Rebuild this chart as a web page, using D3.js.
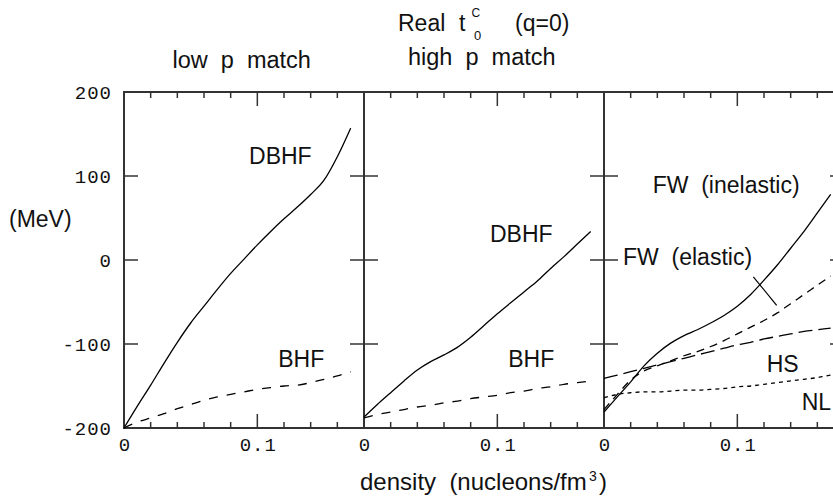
<!DOCTYPE html>
<html><head><meta charset="utf-8">
<script src="https://cdn.jsdelivr.net/npm/d3@7"></script>
<style>body{margin:0;background:#fff}svg{display:block}</style>
</head><body>
<svg id="c" width="833" height="497"></svg>
<script>
// ---- data ----
const density = [0,0.01,0.02,0.03,0.04,0.05,0.06,0.07,0.08,0.09,0.10,0.11,0.12,0.13,0.14,0.15,0.16,0.17];
const lowDBHF  = [-200,-174,-149,-123,-98,-75,-55,-35,-16,1,18,34,49,63,78,95,123,157];
const lowBHF   = [-200,-193,-188,-183,-177,-172,-167,-163,-160,-157,-154,-152,-150,-149,-146,-142,-138,-133];
const highDBHF = [-187,-172,-158,-144,-131,-121,-113,-104,-92,-78,-64,-51,-38,-25,-10,4,19,34];
const highBHF  = [-188,-184,-181,-178,-175,-173,-170,-168,-165,-163,-161,-158,-156,-153,-151,-148,-146,-144];
const fwInelastic = [-181,-163,-145,-126,-111,-99,-90,-83,-75,-66,-55,-41,-24,-6,14,34,56,78];
const fwElastic   = [-178,-160,-143,-132,-126,-120,-114,-109,-103,-96,-88,-80,-72,-63,-52,-41,-30,-19];
const hs = [-141,-137,-133,-129,-125,-121,-117,-113,-109,-105,-101,-98,-94,-91,-88,-85,-83,-81];
const nl = [-164,-160,-158,-157,-157,-156,-155,-155,-154,-153,-151,-150,-148,-146,-144,-142,-140,-137];
const pointerD = [0.112,0.1295];
const pointerV = [-20,-54];
const panelTitles = ["low  p  match","high  p  match"];
const xTickLabels = ["0","0.1"], xTickLabelVals = [0,0.1];
const yTickLabels = ["200","100","0","-100","-200"], yTickLabelVals = [200,100,0,-100,-200];
const xMinor = [0.02,0.04,0.06,0.08,0.12,0.14,0.16], xMajor = [0.1];
const yTicks = [-100,0,100];

// ---- layout ----
const svg = d3.select("#c");
const W = 240, yTop = 92, yBot = 428;
const x0s = [124,364,604];
const y = d3.scaleLinear().domain([-200,200]).range([yBot,yTop]);
const xs = x0s.map(x0 => d3.scaleLinear().domain([0,0.18]).range([x0,x0+W]));
const sans = "'Liberation Sans', Arial, Helvetica, sans-serif";
const mono = "'Liberation Mono', 'Courier New', monospace";
const axisCol = "#333";

const panels = [
  {series:[{v:lowDBHF,dash:null},{v:lowBHF,dash:"9,9"}],
   labels:[{t:"DBHF",d:0.0938,v:114},{t:"BHF",d:0.1157,v:-127}]},
  {series:[{v:highDBHF,dash:null},{v:highBHF,dash:"9,9"}],
   labels:[{t:"DBHF",d:0.0945,v:22},{t:"BHF",d:0.1082,v:-127}]},
  {series:[{v:fwInelastic,dash:null},{v:fwElastic,dash:"8,6"},{v:hs,dash:"14,6"},{v:nl,dash:"4,4"}],
   labels:[{t:"FW  (inelastic)",d:0.0365,v:80},{t:"FW  (elastic)",d:0.01425,v:-6},{t:"HS",d:0.122,v:-133},{t:"NL",d:0.1483,v:-178.6}]}
];

panels.forEach((p,i) => {
  const x = xs[i];
  const g = svg.append("g");
  g.append("rect").attr("x",x(0)).attr("y",yTop).attr("width",W).attr("height",yBot-yTop)
    .attr("fill","none").attr("stroke",axisCol).attr("stroke-width",2);
  xMinor.forEach(d => {
    g.append("line").attr("x1",x(d)).attr("x2",x(d)).attr("y1",yTop).attr("y2",yTop+6).attr("stroke",axisCol).attr("stroke-width",1.5);
    g.append("line").attr("x1",x(d)).attr("x2",x(d)).attr("y1",yBot).attr("y2",yBot-6).attr("stroke",axisCol).attr("stroke-width",1.5);
  });
  xMajor.forEach(d => {
    g.append("line").attr("x1",x(d)).attr("x2",x(d)).attr("y1",yTop).attr("y2",yTop+14).attr("stroke",axisCol).attr("stroke-width",1.5);
    g.append("line").attr("x1",x(d)).attr("x2",x(d)).attr("y1",yBot).attr("y2",yBot-14).attr("stroke",axisCol).attr("stroke-width",1.5);
  });
  yTicks.forEach(v => {
    g.append("line").attr("x1",x(0)).attr("x2",x(0)+14).attr("y1",y(v)).attr("y2",y(v)).attr("stroke",axisCol).attr("stroke-width",1.5);
    g.append("line").attr("x1",x(0.18)).attr("x2",x(0.18)-14).attr("y1",y(v)).attr("y2",y(v)).attr("stroke",axisCol).attr("stroke-width",1.5);
  });
  xTickLabels.forEach((t,k) => {
    g.append("text").attr("x",x(xTickLabelVals[k])+1).attr("y",451).attr("text-anchor","middle")
      .attr("font-family",mono).attr("font-size",19).attr("letter-spacing",1).attr("fill","#111").text(t);
  });
  const line = d3.line().x((v,k)=>x(density[k])).y(v=>y(v)).curve(d3.curveMonotoneX);
  p.series.forEach(s => {
    g.append("path").attr("d",line(s.v)).attr("fill","none").attr("stroke","#000")
      .attr("stroke-width",1.3).attr("stroke-dasharray",s.dash);
  });
  p.labels.forEach(l => {
    g.append("text").attr("x",x(l.d)).attr("y",y(l.v)).attr("font-family",sans).attr("font-size",23)
      .attr("fill","#111").style("white-space","pre").text(l.t);
  });
});
svg.append("line").attr("x1",xs[2](pointerD[0])).attr("y1",y(pointerV[0]))
  .attr("x2",xs[2](pointerD[1])).attr("y2",y(pointerV[1])).attr("stroke","#000").attr("stroke-width",1.2);

yTickLabels.forEach((t,k) => {
  svg.append("text").attr("x",112).attr("y",y(yTickLabelVals[k])+7).attr("text-anchor","end")
    .attr("font-family",mono).attr("font-size",19).attr("letter-spacing",1).attr("fill","#111").text(t);
});

const title = svg.append("text").attr("y",31).attr("font-family",sans).attr("font-size",23).attr("fill","#111");
title.append("tspan").attr("x",398).text("Real");
title.append("tspan").attr("x",459).text("t");
title.append("tspan").attr("x",471.5).attr("y",17).attr("font-size",12).text("C");
title.append("tspan").attr("x",474).attr("y",39.5).attr("font-size",13).text("0");
title.append("tspan").attr("x",515).attr("y",31).text("(q=0)");

svg.append("text").attr("x",172.5).attr("y",68).attr("font-family",sans).attr("font-size",23.5).attr("fill","#111")
  .style("white-space","pre").text(panelTitles[0]);
svg.append("text").attr("x",408).attr("y",65).attr("font-family",sans).attr("font-size",23.5).attr("fill","#111")
  .style("white-space","pre").text(panelTitles[1]);

svg.append("text").attr("x",9).attr("y",227).attr("font-family",sans).attr("font-size",23).attr("fill","#111").text("(MeV)");

const xl = svg.append("text").attr("y",490).attr("font-family",sans).attr("font-size",24).attr("fill","#111").style("white-space","pre");
xl.append("tspan").attr("x",360).text("density  (nucleons/fm");
xl.append("tspan").attr("x",589).attr("y",481).attr("font-size",14).text("3");
xl.append("tspan").attr("x",599).attr("y",490).text(")");
</script>
</body></html>
